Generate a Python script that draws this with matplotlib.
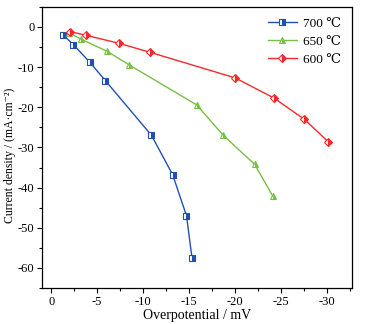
import matplotlib
matplotlib.use("Agg")
import matplotlib.pyplot as plt
from matplotlib.ticker import MultipleLocator

plt.rcParams['font.family'] = ['Liberation Serif', 'DejaVu Serif']

# data (overpotential in mV, current density in mA/cm2)
x_700 = [-1.3, -2.4, -4.2, -5.9, -10.9, -13.2, -14.7, -15.3]
y_700 = [-2.0, -4.4, -8.8, -13.4, -27.0, -36.8, -47.0, -57.5]

x_650 = [-1.9, -3.2, -6.1, -8.5, -15.8, -18.7, -22.1, -24.1]
y_650 = [-1.4, -3.0, -6.1, -9.5, -19.4, -27.0, -34.2, -42.2]

x_600 = [-2.1, -3.8, -7.4, -10.7, -20.0, -24.2, -27.5, -30.1]
y_600 = [-1.2, -2.1, -4.1, -6.3, -12.7, -17.7, -23.0, -28.6]

labels = ['700 ℃', '650 ℃', '600 ℃']

fig = plt.figure(figsize=(3.68, 3.24), dpi=100)
ax = fig.add_axes([0.114, 0.111, 0.843, 0.868])

series = [
    (x_700, y_700, 's', '#2151b0', 4.5),
    (x_650, y_650, '^', '#78c043', 5),
    (x_600, y_600, 'D', '#f42a2a', 4.5),
]
for (xs, ys, mk, col, ms), lab in zip(series, labels):
    ax.plot(xs, ys, color=col, lw=1.0, marker=mk, markersize=ms,
            fillstyle='right', markerfacecolor=col, markerfacecoloralt='white',
            markeredgecolor=col, markeredgewidth=0.8, label=lab)

ax.set_xlim(1, -32.7)
ax.set_ylim(-65, 5)
ax.xaxis.set_major_locator(MultipleLocator(5))
ax.xaxis.set_minor_locator(MultipleLocator(2.5))
ax.yaxis.set_major_locator(MultipleLocator(10))
ax.yaxis.set_minor_locator(MultipleLocator(5))
ax.tick_params(which='both', direction='out', labelsize=9, width=0.8, pad=2)
ax.tick_params(which='major', length=3.5)
ax.tick_params(which='minor', length=2)
ax.xaxis.set_major_formatter(plt.FuncFormatter(lambda v, p: '%d' % v))
ax.yaxis.set_major_formatter(plt.FuncFormatter(lambda v, p: '%d' % v))
for s in ax.spines.values():
    s.set_linewidth(0.9)

ax.set_xlabel('Overpotential / mV', fontsize=10, labelpad=1)
ax.set_ylabel('Current density / (mA·cm⁻²)', fontsize=8.5)
ax.yaxis.set_label_coords(-0.085, 0.473)

ax.legend(loc='upper right', frameon=False, fontsize=9.5, handlelength=2.2,
          labelspacing=0.45, borderaxespad=0.4, handletextpad=0.5)

fig.savefig('out.png', dpi=100)
